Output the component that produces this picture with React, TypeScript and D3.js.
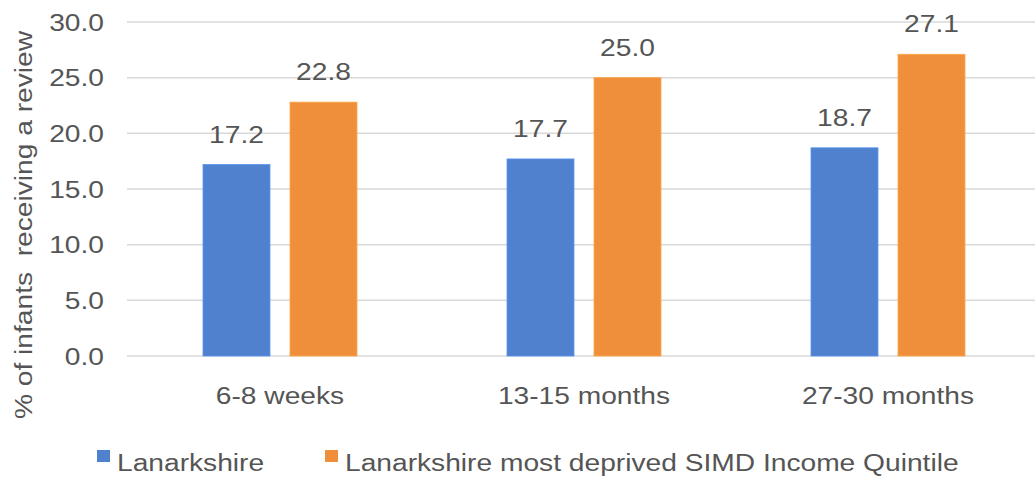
import React, { useEffect } from 'react';
import * as d3 from 'd3';

const categories = ['6-8 weeks', '13-15 months', '27-30 months'];
const seriesNames = ['Lanarkshire', 'Lanarkshire most deprived SIMD Income Quintile'];
const lanarkshire = [17.2, 17.7, 18.7];
const mostDeprived = [22.8, 25.0, 27.1];
const yTicks = [0, 5, 10, 15, 20, 25, 30];
const yTitle = '% of infants  receiving a review';

const COLORS = ['#4f81cf', '#ef8f3b'];
const TEXT = '#555555';
const FONT = '"Liberation Sans", Arial, sans-serif';
const STRETCH = 1.15; // the source text is set a bit wide

const W = 1035;
const H = 477;

// text drawn with a horizontal stretch around its anchor point
function Label({ x, y, rotate = 0, anchor = 'start', dy, children }: any) {
  return (
    <g transform={`translate(${x},${y}) rotate(${rotate}) scale(${STRETCH},1)`}>
      <text
        textAnchor={anchor}
        dy={dy}
        fontFamily={FONT}
        fontSize={24.5}
        fill={TEXT}
        style={{ whiteSpace: 'pre' }}
      >
        {children}
      </text>
    </g>
  );
}

export default function App() {
  useEffect(() => {
    document.body.style.margin = '0';
  }, []);

  const series = [lanarkshire, mostDeprived];

  const x0 = d3.scaleBand<string>().domain(categories).range([128, 1040]).padding(0);
  const x1 = d3
    .scaleBand<number>()
    .domain([0, 1])
    .range([0, x0.bandwidth()])
    .paddingInner(0.23)
    .paddingOuter(0.862);
  const y = d3.scaleLinear().domain([0, 30]).range([356, 22]);
  const fmt = d3.format('.1f');

  return (
    <svg width={W} height={H} style={{ display: 'block', background: '#fff' }}>
      {/* gridlines */}
      {yTicks.map(t => (
        <line key={t} x1={127} x2={W} y1={y(t)} y2={y(t)} stroke="#d9d9d9" strokeWidth={1.5} />
      ))}

      {/* y tick labels */}
      {yTicks.map(t => (
        <Label key={t} x={104} y={y(t)} dy="0.36em" anchor="end">
          {fmt(t)}
        </Label>
      ))}

      {/* y title */}
      <Label x={32} y={(y(0) + y(30)) / 2 + 36} rotate={-90} anchor="middle">
        {yTitle}
      </Label>

      {/* bars + labels */}
      {categories.map((c, ci) => (
        <g key={c} transform={`translate(${x0(c)},0)`}>
          {series.map((s, si) => (
            <g key={si}>
              <rect
                x={x1(si)}
                y={y(s[ci])}
                width={x1.bandwidth()}
                height={y(0) - y(s[ci])}
                fill={COLORS[si]}
                stroke={d3.color(COLORS[si])!.brighter(0.4).toString()}
                strokeWidth={0.8}
              />
              <Label
                x={(x1(si) as number) + x1.bandwidth() / 2}
                y={y(s[ci]) - 22}
                anchor="middle"
              >
                {fmt(s[ci])}
              </Label>
            </g>
          ))}
          <Label x={x0.bandwidth() / 2} y={404} anchor="middle">
            {c}
          </Label>
        </g>
      ))}

      {/* legend */}
      <g>
        <rect x={97} y={450} width={13} height={12} fill={COLORS[0]} />
        <Label x={117} y={471}>{seriesNames[0]}</Label>
        <rect x={325} y={450} width={13} height={12} fill={COLORS[1]} />
        <Label x={345} y={471}>{seriesNames[1]}</Label>
      </g>
    </svg>
  );
}
